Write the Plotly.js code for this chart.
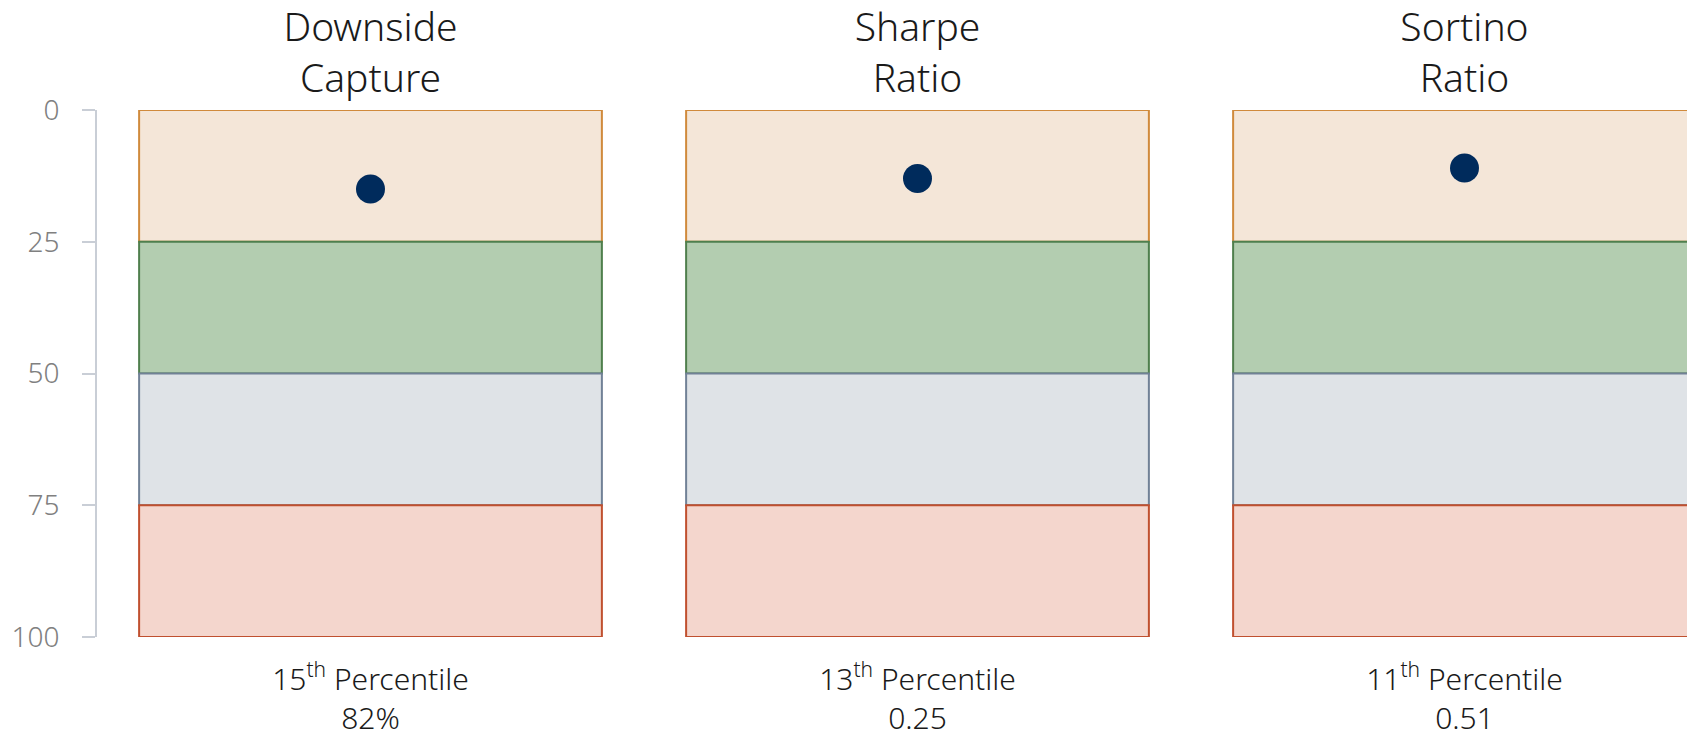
<!DOCTYPE html>
<html>
<head>
<meta charset="utf-8">
<script src="https://cdn.plot.ly/plotly-3.0.1.min.js"></script>
<style>
  html, body { margin: 0; padding: 0; background: #ffffff; }
  #chart { width: 1687px; height: 737px; }
</style>
</head>
<body>
<div id="chart"></div>
<script>
// ---- data ----
const metricTitles = ["Downside<br>Capture", "Sharpe<br>Ratio", "Sortino<br>Ratio"];
const percentiles = [15, 13, 11];
const metricValues = ["82%", "0.25", "0.51"];
const bandEdges = [0, 25, 50, 75, 100];
const yTicks = [0, 25, 50, 75, 100];

// ---- styles ----
const bandFills = ["#F4E6D8", "#B3CDB0", "#DFE3E7", "#F4D6CD"];
const bandLines = ["#D08A3C", "#4F7F4D", "#718196", "#C0502F"];
const dotColor = "#002B5C";
const FONT = "'Noto Sans', 'Open Sans', sans-serif";

const idx = metricTitles.map((_, i) => i);
const xRange = [-0.5, -0.5 + 1590 / 547];

const traces = [];
for (let b = 0; b < bandEdges.length - 1; b++) {
  traces.push({
    type: "bar",
    x: idx,
    y: idx.map(() => bandEdges[b + 1] - bandEdges[b]),
    base: idx.map(() => bandEdges[b]),
    width: 0.846,
    marker: { color: bandFills[b], line: { color: bandLines[b], width: 2 } },
    xaxis: "x",
    yaxis: "y",
    hoverinfo: "skip",
    showlegend: false
  });
}

traces.push({
  type: "scatter",
  mode: "markers",
  x: idx,
  y: percentiles,
  xaxis: "x2",
  yaxis: "y",
  marker: { size: 29, color: dotColor },
  hoverinfo: "skip",
  showlegend: false,
  cliponaxis: false
});

const bottomLabels = percentiles.map((p, i) => p + "<sup>th</sup> Percentile<br>" + metricValues[i]);

const layout = {
  width: 1687,
  height: 737,
  margin: { l: 97, r: 0, t: 110, b: 100 },
  paper_bgcolor: "#ffffff",
  plot_bgcolor: "#ffffff",
  barmode: "overlay",
  showlegend: false,
  hovermode: false,
  font: { family: FONT, weight: 300, color: "#1A1A1A" },
  xaxis: {
    range: xRange,
    side: "top",
    tickmode: "array",
    tickvals: idx,
    ticktext: metricTitles,
    ticks: "",
    showgrid: false,
    zeroline: false,
    showline: false,
    tickfont: { family: FONT, size: 39, color: "#1A1A1A", weight: 300 },
    ticklabelstandoff: 9,
    fixedrange: true
  },
  xaxis2: {
    range: xRange,
    overlaying: "x",
    side: "bottom",
    tickmode: "array",
    tickvals: idx,
    ticktext: bottomLabels,
    ticks: "",
    showgrid: false,
    zeroline: false,
    showline: false,
    tickfont: { family: FONT, size: 30, color: "#1A1A1A", weight: 300 },
    ticklabelstandoff: 22,
    fixedrange: true
  },
  yaxis: {
    range: [100, 0],
    tickmode: "array",
    tickvals: yTicks,
    ticktext: yTicks.map(String),
    showgrid: false,
    zeroline: false,
    showline: true,
    linecolor: "#C9CED6",
    linewidth: 2,
    ticks: "outside",
    ticklen: 13,
    tickwidth: 2,
    tickcolor: "#C9CED6",
    tickfont: { family: FONT, size: 28, color: "#808080", weight: 300 },
    ticklabelstandoff: 17,
    fixedrange: true
  }
};

Plotly.newPlot("chart", traces, layout, { displayModeBar: false, staticPlot: true });
</script>
</body>
</html>
